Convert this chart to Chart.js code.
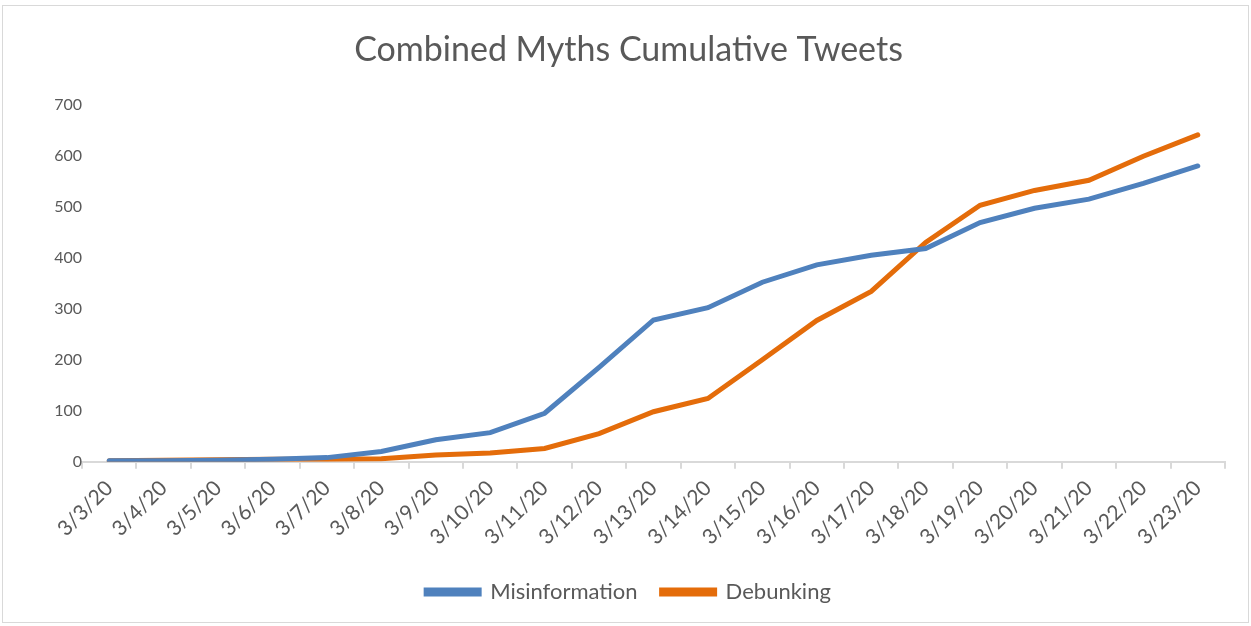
<!DOCTYPE html>
<html>
<head>
<meta charset="utf-8">
<script src="https://cdn.jsdelivr.net/npm/chart.js@4.4.1/dist/chart.umd.min.js"></script>
<style>
    body { margin: 0; background: #fff; }
    #wrap { position: relative; width: 1251px; height: 626px; }
    #frame { position: absolute; left: 2px; top: 5px; width: 1245px; height: 616px; border: 1px solid #d9d9d9; pointer-events: none; }
</style>
</head>
<body>
<div id="wrap">
    <canvas id="myChart" width="1251" height="626"></canvas>
    <div id="frame"></div>
</div>
<script>
const dates = ["3/3/20", "3/4/20", "3/5/20", "3/6/20", "3/7/20", "3/8/20", "3/9/20", "3/10/20", "3/11/20", "3/12/20", "3/13/20",
    "3/14/20", "3/15/20", "3/16/20", "3/17/20", "3/18/20", "3/19/20", "3/20/20", "3/21/20", "3/22/20", "3/23/20"];
const misinformation = [2, 2, 3, 5, 8, 20, 43, 57, 95, 185, 278, 302, 352, 386, 405, 418, 469, 497, 515, 546, 580];
const debunking = [2, 3, 4, 5, 5, 6, 13, 17, 26, 55, 98, 124, 200, 277, 334, 430, 503, 532, 552, 599, 641];
const yTicks = [0, 100, 200, 300, 400, 500, 600, 700];

const font = "Lato, 'Open Sans', sans-serif";
const grey = "#595959";

document.addEventListener("DOMContentLoaded", () => {
    const ctx = document.getElementById("myChart").getContext("2d");
    new Chart(ctx, {
        type: "line",
        data: {
            labels: dates,
            datasets: [
                {
                    label: "Misinformation",
                    data: misinformation,
                    borderColor: "#4f81bd",
                    backgroundColor: "#4f81bd",
                    borderWidth: 5,
                    pointRadius: 0,
                    borderCapStyle: "round",
                    tension: 0
                },
                {
                    label: "Debunking",
                    data: debunking,
                    borderColor: "#e46c0a",
                    backgroundColor: "#e46c0a",
                    borderWidth: 5,
                    pointRadius: 0,
                    borderCapStyle: "round",
                    tension: 0
                }
            ]
        },
        options: {
            responsive: false,
            animation: false,
            layout: { padding: { left: 32, right: 26, top: 12, bottom: 13 } },
            plugins: {
                title: {
                    display: true,
                    text: "Combined Myths Cumulative Tweets",
                    color: grey,
                    font: { family: font, size: 34, weight: "normal" },
                    padding: { top: 18, bottom: 34 }
                },
                legend: {
                    position: "bottom",
                    labels: {
                        color: grey,
                        font: { family: font, size: 22 },
                        boxWidth: 53,
                        boxHeight: 4,
                        padding: 24
                    }
                },
                tooltip: { enabled: false }
            },
            scales: {
                x: {
                    offset: true,
                    grid: {
                        offset: true,
                        drawOnChartArea: false,
                        tickLength: 7,
                        color: "#d9d9d9",
                        lineWidth: 2
                    },
                    border: { color: "#d9d9d9", width: 2 },
                    ticks: {
                        color: grey,
                        font: { family: font, size: 21 },
                        minRotation: 45,
                        maxRotation: 45,
                        autoSkip: false,
                        padding: 7
                    }
                },
                y: {
                    min: 0,
                    max: 700,
                    afterBuildTicks: axis => { axis.ticks = yTicks.map(v => ({ value: v })); },
                    afterFit: axis => { axis.width = 50; },
                    grid: { display: false },
                    border: { display: false },
                    ticks: {
                        color: grey,
                        font: { family: font, size: 16 },
                        padding: -8
                    }
                }
            }
        }
    });
});
</script>
</body>
</html>
